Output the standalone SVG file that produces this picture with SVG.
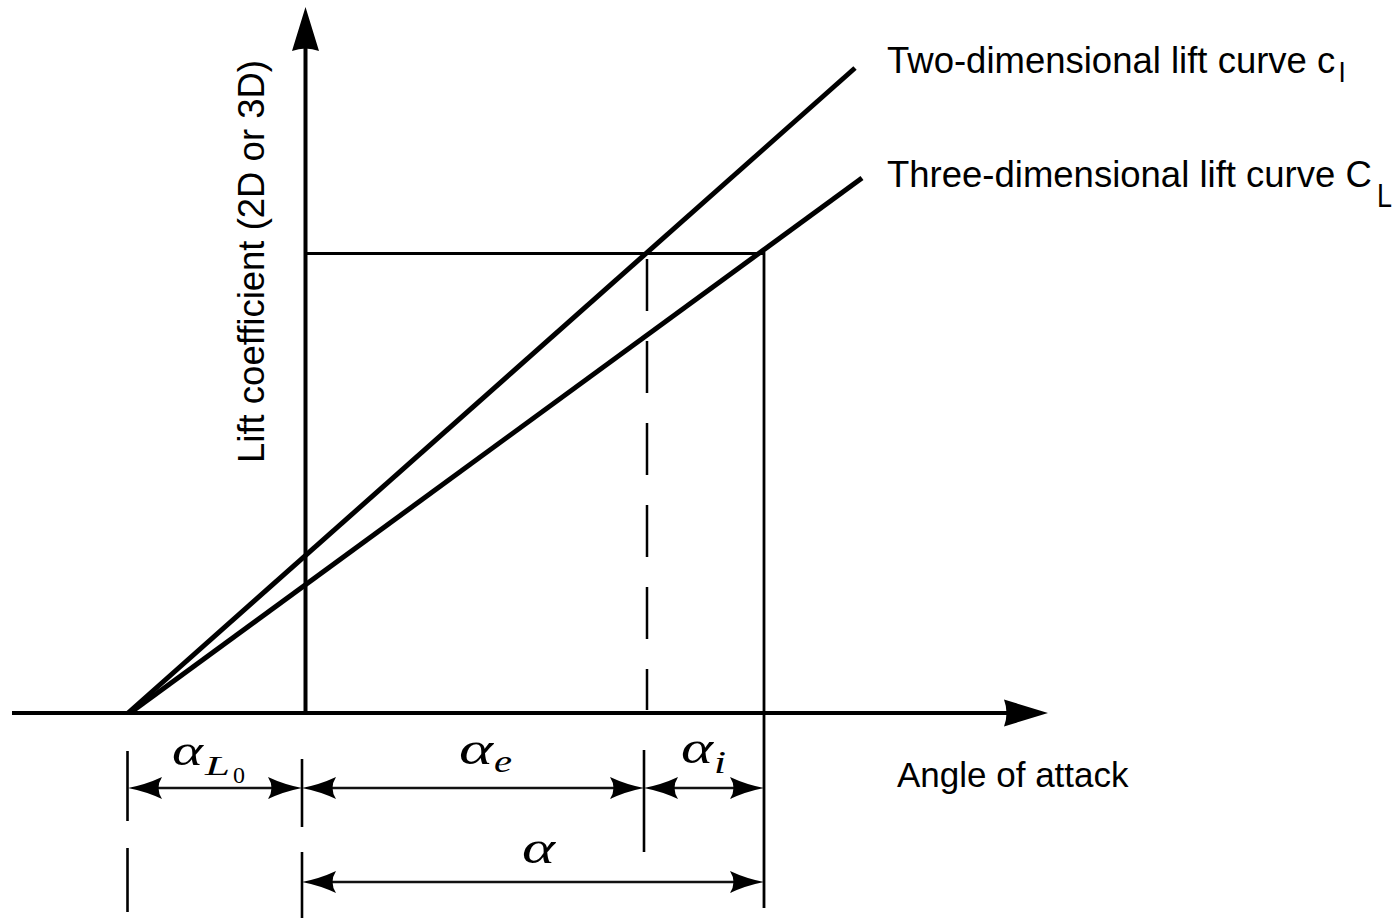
<svg xmlns="http://www.w3.org/2000/svg" width="1396" height="918" viewBox="0 0 1396 918">
<defs>
<style>
.ax{stroke:#000;stroke-width:4;fill:none}
.lift{stroke:#000;stroke-width:5;fill:none}
.thin{stroke:#000;stroke-width:2.8;fill:none}
.dash{stroke:#000;stroke-width:2.5;stroke-dasharray:52 30;fill:none}
.dim{stroke:#111;stroke-width:2.6;fill:none;marker-start:url(#dh);marker-end:url(#dh)}
.tick{stroke:#000;stroke-width:2.6;fill:none}
.lbl{font-family:"Liberation Sans",Arial,sans-serif;font-size:36.5px;fill:#000}
.sub{font-family:"Liberation Sans",Arial,sans-serif;font-size:28px;fill:#000}
.math{font-family:"Liberation Serif","Times New Roman",serif;font-style:italic;fill:#000}
.up{font-family:"Liberation Serif","Times New Roman",serif;fill:#000}
</style>
<marker id="dh" viewBox="0 0 34 24" refX="14" refY="12" markerWidth="34" markerHeight="24" markerUnits="userSpaceOnUse" orient="auto-start-reverse"><path d="M34,12 Q16,8.5 0,1 Q7,12 0,23 Q16,15.5 34,12Z" fill="#000"/></marker>
<marker id="ah" viewBox="0 0 44 28" refX="14" refY="14" markerWidth="44" markerHeight="28" markerUnits="userSpaceOnUse" orient="auto"><path d="M44,14 L0,0.5 Q5,14 0,27.5Z" fill="#000"/></marker>
</defs>
<rect width="1396" height="918" fill="#fff"/>

<g id="connectors">
  <line id="x-axis" class="ax" x1="12" y1="713" x2="1018" y2="713" marker-end="url(#ah)"/>
  <line id="y-axis" class="ax" x1="305.5" y1="713" x2="305.5" y2="37" marker-end="url(#ah)"/>
  <line id="cl-line" class="lift" x1="128" y1="713" x2="855" y2="68"/>
  <line id="CL-line" class="lift" x1="130" y1="713" x2="862" y2="178"/>
  <line class="thin" x1="305" y1="253.5" x2="764" y2="253.5"/>
  <line class="thin" x1="764" y1="252" x2="764" y2="908"/>
  <line class="dash" x1="647" y1="259" x2="647" y2="710"/>
  <line class="tick" x1="127.5" y1="751" x2="127.5" y2="821"/>
  <line class="tick" x1="127.5" y1="848" x2="127.5" y2="912"/>
  <line class="tick" x1="302" y1="759" x2="302" y2="827"/>
  <line class="tick" x1="302" y1="852" x2="302" y2="918"/>
  <line class="tick" x1="644" y1="750" x2="644" y2="852"/>
  <line class="dim" x1="148" y1="788" x2="282" y2="788"/>
  <line class="dim" x1="322" y1="788" x2="624" y2="788"/>
  <line class="dim" x1="664" y1="788" x2="744" y2="788"/>
  <line class="dim" x1="322" y1="882" x2="744" y2="882"/>
</g>

<g id="label-2d">
  <text class="lbl" x="887" y="73">Two-dimensional lift curve c</text>
  <text class="sub" x="1339" y="82">l</text>
</g>
<g id="label-3d">
  <text class="lbl" x="887" y="187">Three-dimensional lift curve C</text>
  <text class="sub" x="1377" y="207" style="font-size:34px" textLength="15" lengthAdjust="spacingAndGlyphs">L</text>
</g>
<g id="label-x">
  <text class="lbl" x="897" y="787" style="font-size:35px">Angle of attack</text>
</g>
<g id="label-y">
  <text class="lbl" transform="translate(264,463) rotate(-90)">Lift coefficient (2D or 3D)</text>
</g>
<g id="alpha-L0">
  <text class="math" x="172" y="765" font-size="44" textLength="31" lengthAdjust="spacingAndGlyphs">α</text>
  <text class="math" x="205" y="775" font-size="28" textLength="25" lengthAdjust="spacingAndGlyphs">L</text>
  <text class="up" x="233" y="783" font-size="23" textLength="12" lengthAdjust="spacingAndGlyphs">0</text>
</g>
<g id="alpha-e">
  <text class="math" x="459" y="764" font-size="46" textLength="34" lengthAdjust="spacingAndGlyphs">α</text>
  <text class="math" x="494" y="772" font-size="32" textLength="18" lengthAdjust="spacingAndGlyphs">e</text>
</g>
<g id="alpha-i">
  <text class="math" x="681" y="763" font-size="46" textLength="32" lengthAdjust="spacingAndGlyphs">α</text>
  <text class="math" x="714" y="773" font-size="32" textLength="12" lengthAdjust="spacingAndGlyphs">i</text>
</g>
<g id="alpha">
  <text class="math" x="522" y="863" font-size="46" textLength="33" lengthAdjust="spacingAndGlyphs">α</text>
</g>
</svg>
